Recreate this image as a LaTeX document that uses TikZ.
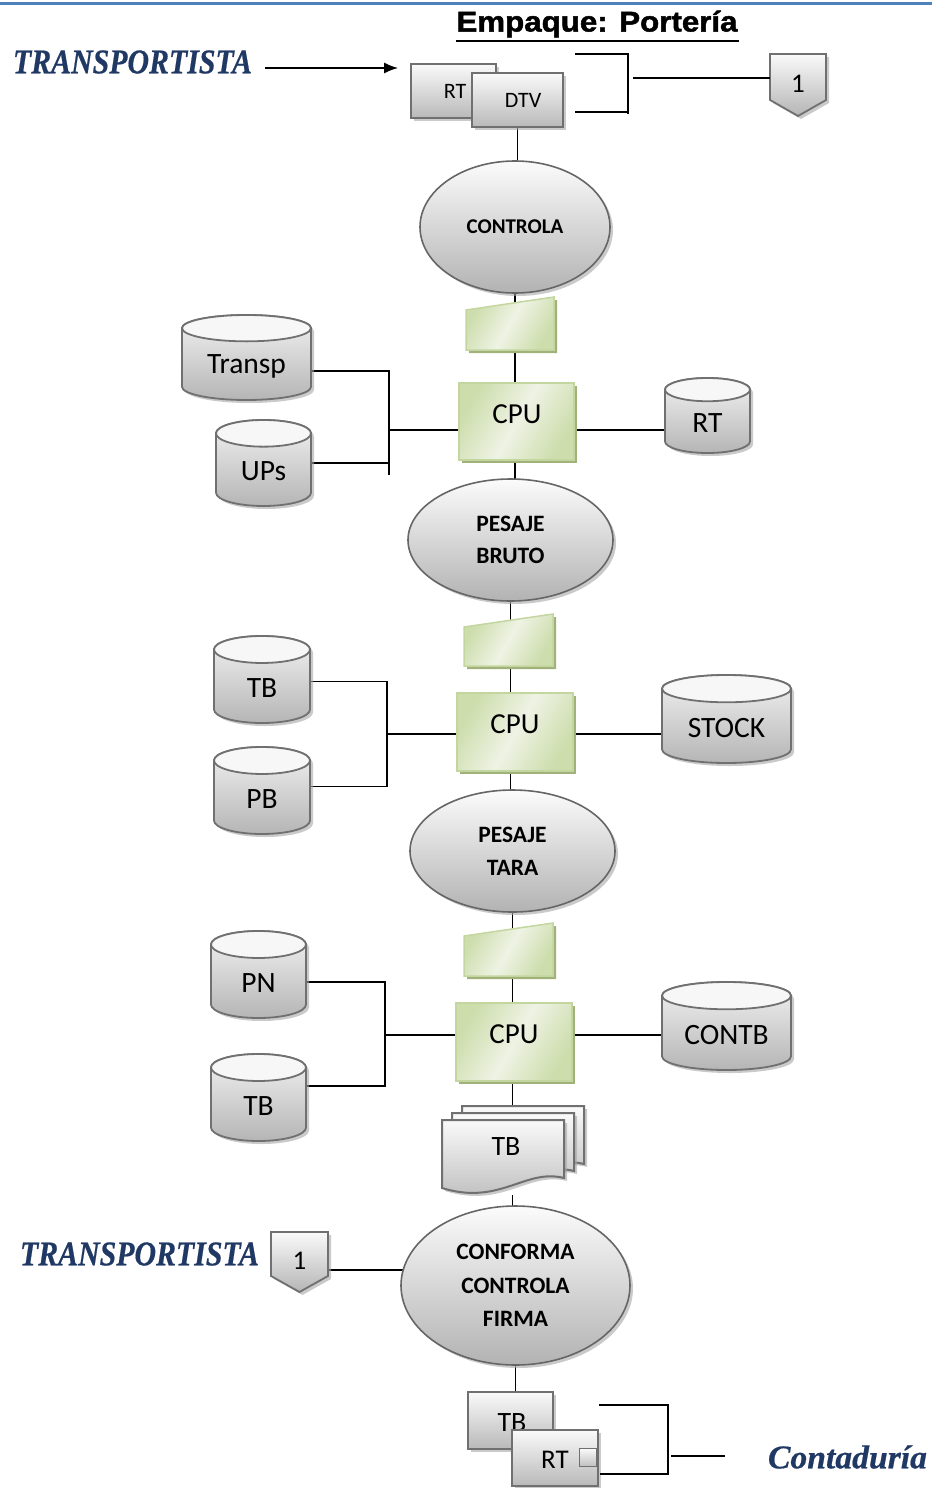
\documentclass[tikz,border=0pt]{standalone}
\usepackage{fontspec}
\setmainfont{Carlito}
\newfontfamily\serifbi[BoldItalicFeatures={FakeBold=0.6}]{Liberation Serif}
\newfontfamily\arialf[BoldFeatures={FakeBold=1.6}]{Liberation Sans}
\usetikzlibrary{shapes.geometric,arrows.meta,calc,shadows}
\pgfdeclarelayer{bg}
\pgfsetlayers{bg,main}

\definecolor{tblue}{RGB}{31,56,100}
\definecolor{lineblue}{RGB}{79,129,189}
\definecolor{grn}{RGB}{205,221,172}
\definecolor{grnl}{RGB}{238,243,228}
\definecolor{grnb}{RGB}{196,214,160}
\definecolor{grns}{RGB}{160,178,122}
\definecolor{gbord}{RGB}{112,112,112}

\newcommand\fs[1]{\fontsize{#1}{#1}\selectfont}
\newcommand\fsl[2]{\fontsize{#1}{#2}\selectfont}

\tikzset{
  conn/.style={draw=black, line width=1.3pt},
  shadowed/.style={drop shadow={shadow xshift=3pt, shadow yshift=-3pt, fill=black!35, opacity=0.6}},
  gbox/.style={rectangle, draw=gbord, line width=2pt, top color=gray!4, bottom color=gray!55, shadowed, inner sep=0pt, outer sep=0pt},
  ghost/.style={rectangle, inner sep=0pt, outer sep=0pt},
  cpubox/.style={rectangle, draw=grnb, line width=1.5pt, left color=grn, right color=grn, middle color=grnl, shading angle=60,
     drop shadow={shadow xshift=3pt, shadow yshift=-3pt, fill=grns, opacity=1}, inner sep=0pt, outer sep=0pt},
  mishape/.style={draw=grnb, line width=1.5pt, left color=grn, right color=grn, middle color=grnl, shading angle=60,
     drop shadow={shadow xshift=3pt, shadow yshift=-3pt, fill=grns, opacity=1}},
  ell/.style={ellipse, draw=black!60, line width=1.6pt, top color=gray!3, bottom color=gray!60, shadowed, align=center, inner sep=0pt, outer sep=0pt},
  cylbody/.style={draw=gbord, line width=1.8pt, top color=gray!10, bottom color=gray!58, shadowed},
  cyltop/.style={draw=gbord, line width=1.8pt, fill=gray!6},
  pent/.style={draw=gbord, line width=1.8pt, top color=gray!4, bottom color=gray!58, shadowed},
  doc/.style={draw=gbord, line width=2pt, top color=gray!4, bottom color=gray!55, shadowed},
  txt/.style={inner sep=0pt, outer sep=0pt},
  blue/.style={text=tblue, inner sep=0pt, outer sep=0pt},
}

% cylinder: name, cx, cy, w, h, text
\newcommand\dbcyl[6]{%
  \node[ghost, minimum width=#4pt, minimum height=#5pt] (#1) at (#2,#3) {};
  \pgfmathsetmacro\crx{#4/2}%
  \pgfmathsetmacro\cry{#5*0.155}%
  \pgfmathsetmacro\cty{-#5*0.1}%
  \path[cylbody] ([yshift=-\cry pt]#1.north west) -- ([yshift=\cry pt]#1.south west)
     arc[start angle=180, end angle=360, x radius=\crx pt, y radius=\cry pt]
     -- ([yshift=-\cry pt]#1.north east)
     arc[start angle=0, end angle=180, x radius=\crx pt, y radius=\cry pt] -- cycle;
  \path[cyltop] ([yshift=-\cry pt]#1.north) ellipse[x radius=\crx pt, y radius=\cry pt];
  \node[txt, font=\fs{29.5}] (#1-t) at ([yshift=\cty pt]#1.center) {#6};
}

% manual input: name, cx, cy, w, h
\newcommand\manin[5]{%
  \node[ghost, minimum width=#4pt, minimum height=#5pt] (#1) at (#2,#3) {};
  \path[mishape] (#1.south west) -- ([yshift=-13pt]#1.north west) -- (#1.north east) -- (#1.south east) -- cycle;
}

% off-page connector: name, cx, cy, w, h
\newcommand\offpage[5]{%
  \node[ghost, minimum width=#4pt, minimum height=#5pt] (#1) at (#2,#3) {};
  \path[pent] (#1.north west) -- (#1.north east) -- ([yshift=16pt]#1.south east) -- (#1.south) -- ([yshift=16pt]#1.south west) -- cycle;
  \node[txt, font=\fs{27}] (#1-t) at ([yshift=1pt]#1.center) {1};
}

\begin{document}
\begin{tikzpicture}[x=1pt, y=-1pt]
\useasboundingbox (0,0) rectangle (932,1488);

% top rule
\draw[lineblue, line width=3pt] (0,4) -- (932,4);

% title
\node[txt] (title) at (597,24) {\resizebox{281pt}{21pt}{\arialf\bfseries Empaque: Portería}};
\draw[black, line width=2.6pt] (456,41) -- (739,41);

% transportista top
\node[blue] (tr1) at (132.5,62) {\resizebox{239pt}{23pt}{\serifbi\bfseries\itshape TRANSPORTISTA}};

% RT + DTV boxes
\node[gbox, minimum width=85pt, minimum height=54pt] (rt1) at (453.5,91) {};
\node[txt, font=\fs{22}] (rt1-t) at (455,91) {RT};
\node[gbox, minimum width=91pt, minimum height=54pt] (dtv) at (517.5,100) {};
\node[txt, font=\fs{22}] (dtv-t) at (523,100) {DTV};

% bracket top
\coordinate (bk1a) at (575,54);
\coordinate (bk1b) at (628,54);
\coordinate (bk1c) at (628,114);
\coordinate (bk1d) at (575,112);
\coordinate (bk1e) at (628,112);
\coordinate (bk1m) at (633,78);
\offpage{op1}{798}{85}{56}{62}

% CONTROLA
\node[ell, minimum width=190pt, minimum height=132pt, font=\bfseries\fs{21}] (controla) at (515,227) {CONTROLA};

% first CPU group
\manin{mi1}{510}{323.5}{88}{53}
\node[cpubox, minimum width=115pt, minimum height=77pt] (cpu1) at (516.5,421.5) {};
\node[txt, font=\fs{29}] (cpu1-t) at (517,414) {CPU};
\dbcyl{transp}{246.5}{357.5}{129}{85}{Transp}
\dbcyl{ups}{263.5}{463}{95}{86}{UPs}
\dbcyl{rtc}{707.5}{415.5}{85}{75}{RT}
\coordinate (j1) at (389,430);
\coordinate (j1t) at (389,371);
\coordinate (j1b) at (389,475);

% PESAJE BRUTO
\node[ell, minimum width=205pt, minimum height=122pt, font=\bfseries\fsl{23.5}{32.5}] (pbruto) at (510.5,540) {PESAJE\\BRUTO};

% second CPU group
\manin{mi2}{508.5}{640}{89}{52}
\node[cpubox, minimum width=116pt, minimum height=78pt] (cpu2) at (515,732) {};
\node[txt, font=\fs{29}] (cpu2-t) at (515,724) {CPU};
\dbcyl{tb1}{262}{679.5}{96}{87}{TB}
\dbcyl{pb}{262}{790.5}{96}{87}{PB}
\dbcyl{stock}{726.5}{719}{129}{88}{STOCK}
\coordinate (j2) at (387,734);

% PESAJE TARA
\node[ell, minimum width=205pt, minimum height=122pt, font=\bfseries\fsl{23.5}{33}] (ptara) at (512.5,851) {PESAJE\\TARA};

% third CPU group
\manin{mi3}{508.5}{949.5}{89}{53}
\node[cpubox, minimum width=116pt, minimum height=78pt] (cpu3) at (514,1042) {};
\node[txt, font=\fs{29}] (cpu3-t) at (514,1034) {CPU};
\dbcyl{pn}{258.5}{974.5}{95}{87}{PN}
\dbcyl{tb2}{258.5}{1097.5}{95}{87}{TB}
\dbcyl{contb}{726.5}{1026}{129}{88}{CONTB}
\coordinate (j3) at (385,1035);

% multiple documents TB
\node[ghost, minimum width=122pt, minimum height=75pt] (tbd) at (503,1157.5) {};
\foreach \dx/\dy in {20/-14, 10/-7, 0/0}{
  \path[doc, shift={(\dx,\dy)}] (442,1120) -- (564,1120) -- (564,1178)
     .. controls (525,1168) and (500,1206) .. (442,1188) -- cycle;
}
\node[txt, font=\fs{28}] (tbd-t) at (506,1147) {TB};

% CONFORMA
\node[ell, minimum width=229pt, minimum height=159pt, font=\bfseries\fsl{23.5}{33.5}] (conforma) at (515.5,1285.5) {CONFORMA\\CONTROLA\\FIRMA};

% transportista bottom
\node[blue] (tr2) at (139.5,1254) {\resizebox{239pt}{23pt}{\serifbi\bfseries\itshape TRANSPORTISTA}};
\offpage{op2}{299.5}{1262}{57}{60}

% bottom TB + RT
\node[gbox, minimum width=85pt, minimum height=57pt] (tb3) at (510.5,1420.5) {};
\node[txt, font=\fs{28}] (tb3-t) at (512,1422) {TB};
\node[gbox, minimum width=86pt, minimum height=56pt] (rt3) at (555,1458) {};
\node[txt, font=\fs{27}] (rt3-t) at (555,1460) {RT};
\node[rectangle, draw=gbord, line width=1.5pt, top color=gray!4, bottom color=gray!50, minimum width=17pt, minimum height=18pt, inner sep=0pt] (rt3-sq) at (588,1457.5) {};

% bracket bottom
\coordinate (bk2a) at (599,1405);
\coordinate (bk2b) at (668,1405);
\coordinate (bk2c) at (668,1474);
\coordinate (bk2d) at (600,1474);
\coordinate (bk2m) at (671,1456);
\coordinate (bk2e) at (725,1456);

\node[blue] (conta) at (847.5,1457) {\resizebox{159pt}{23pt}{\serifbi\bfseries\itshape Contaduría}};

% ---------- connectors ----------
\draw[conn, -{Latex[length=14pt,width=11pt]}, shorten <=13pt, shorten >=13pt] (tr1.east |- 0,68) -- (rt1.west |- 0,68);
\draw[conn] (bk1a) -- (bk1b) -- (bk1c);
\draw[conn] (bk1d) -- (bk1e);
\draw[conn] (bk1m) -- (bk1m -| op1.west);
\draw[conn] (bk2a) -- (bk2b) -- (bk2c) -- (bk2d);
\draw[conn] (bk2m) -- (bk2e);

\begin{pgfonlayer}{bg}
  \draw[conn] (dtv.south) -- (dtv.south |- controla.north);
  \draw[conn] (controla.south) -- (controla.south |- mi1.center);
  \draw[conn] (controla.south |- mi1.center) -- (controla.south |- cpu1.north);
  \draw[conn] (transp.east |- j1t) -- (j1t) -- (j1b);
  \draw[conn] (ups.east) -- (ups.east -| j1);
  \draw[conn] (j1) -- (cpu1.west |- j1);
  \draw[conn] (cpu1.east |- j1) -- (rtc.west |- j1);
  \draw[conn] (cpu1.south -| controla.south) -- (pbruto.north -| controla.south);

  \draw[conn] (pbruto.south) -- (pbruto.south |- mi2.center);
  \draw[conn] (pbruto.south |- mi2.center) -- (pbruto.south |- cpu2.north);
  \draw[conn] ([yshift=-2pt]tb1.east) -| (j2) -- (cpu2.west |- j2);
  \draw[conn] ([yshift=4pt]pb.east) -| (j2);
  \draw[conn] (cpu2.east |- j2) -- (stock.west |- j2);
  \draw[conn] (pbruto.south |- cpu2.south) -- (pbruto.south |- ptara.north);

  \draw[conn] (ptara.south) -- (ptara.south |- mi3.center);
  \draw[conn] (ptara.south |- mi3.center) -- (ptara.south |- cpu3.north);
  \draw[conn] ([yshift=-7.5pt]pn.east) -| (j3) -- (cpu3.west |- j3);
  \draw[conn] ([yshift=11.5pt]tb2.east) -| (j3);
  \draw[conn] (cpu3.east |- j3) -- (contb.west |- j3);
  \draw[conn] (ptara.south |- cpu3.south) -- (ptara.south |- tbd.north);
  \draw[conn] (ptara.south |- tbd.south) -- (ptara.south |- conforma.north);

  \draw[conn] ([yshift=-8pt]op2.east) -- ([yshift=-8pt]op2.east -| conforma.center);
  \draw[conn] (conforma.south) -- (conforma.south |- tb3.north);
\end{pgfonlayer}
\end{tikzpicture}
\end{document}
